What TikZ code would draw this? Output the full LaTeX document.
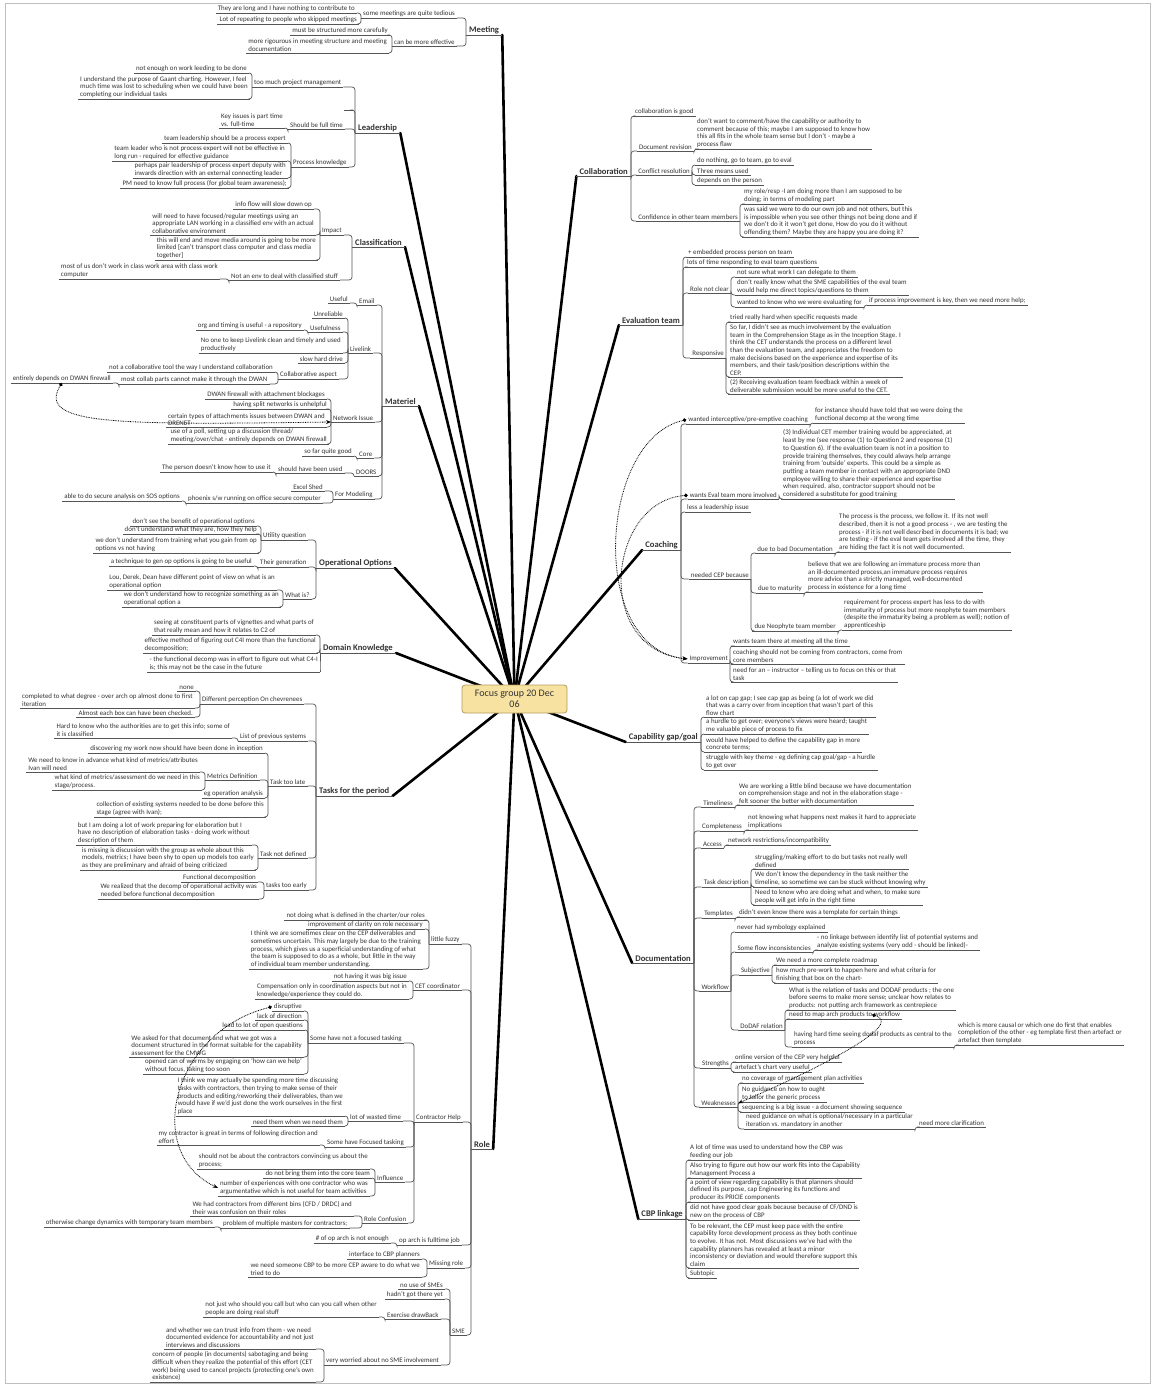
\documentclass[tikz,border=0pt]{standalone}
\usepackage{fontspec}
\setmainfont{Carlito}
\usetikzlibrary{arrows.meta,backgrounds,calc}
\definecolor{ink}{HTML}{333333}
\definecolor{lnk}{HTML}{555555}
\definecolor{boxfill}{HTML}{F8E2A2}
\definecolor{boxline}{HTML}{B39D5E}
\newcommand\leaffont{\fontsize{6.9}{7.7}\selectfont}
\newcommand\topicfont{\fontsize{8.6}{10}\selectfont\bfseries}
\newcommand\hubfont{\fontsize{10}{11.5}\selectfont}
\tikzset{
  ul/.style={draw=lnk, line width=0.7pt},
  txt/.style={inner xsep=2pt, inner ysep=1.1pt, font=\leaffont, text=ink, align=left,
    append after command={(\tikzlastnode.south west) edge[ul] (\tikzlastnode.south east)}},
  lfL/.style={txt, anchor=south east},
  mdL/.style={txt, anchor=south west},
  lfR/.style={txt, anchor=south west},
  mdR/.style={txt, anchor=south east},
  tpL/.style={txt, font=\topicfont, inner xsep=3pt, anchor=south west},
  tpR/.style={txt, font=\topicfont, inner xsep=3pt, anchor=south east},
  hub/.style={draw=boxline, fill=boxfill, rounded corners=3pt, line width=0.8pt,
    font=\hubfont, text=ink, align=center, minimum width=105pt, minimum height=28pt, inner sep=2pt},
  lk/.style={draw=lnk, line width=0.7pt, rounded corners=3pt},
  trunk/.style={draw=black, line width=2.6pt, line cap=round},
  rel/.style={draw=black, line width=0.8pt, dash pattern=on 0.8pt off 0.9pt,
    {Circle[length=3.6pt]}-{Stealth[length=5pt,width=4pt]}},
}
\begin{document}
\begin{tikzpicture}[x=1pt,y=-1pt]
\useasboundingbox (0,0) rectangle (1154,1385);

% central topic
\node[hub] (ctr) at (514.5,699) {Focus group 20 Dec\\06};

% ---------------- Meeting
\node[tpL] (meet) at (466,35) {Meeting};
\node[mdL] (mt1) at (361,18) {some meetings are quite tedious};
\node[lfL] (mt1a) at (357,13) {They are long and I have nothing to contribute to};
\node[lfL] (mt1b) at (359,24) {Lot of repeating to people who skipped meetings};
\node[mdL] (mt2) at (392,46) {can be more effective};
\node[lfL] (mt2a) at (390,35) {must be structured more carefully};
\node[lfL] (mt2b) at (389,53) {more rigourous in meeting structure and meeting\\documentation};

% ---------------- Leadership
\node[tpL] (lead) at (355,133) {Leadership};
\node[mdL] (ld1) at (252,87) {too much project management};
\node[lfL] (ld1a) at (249,73) {not enough on work leeding to be done};
\node[lfL] (ld1b) at (250,99) {I understand the purpose of Gaant charting. However, I feel\\much time was lost to scheduling when we could have been\\completing our individual tasks};
\node[lfL, minimum width=9pt] (ld0) at (353,110) {};
\node[mdL] (ld2) at (288,129) {Should be full time};
\node[lfL] (ld2a) at (285,128) {Key issues is part time\\vs. full-time};
\node[mdL] (ld3) at (291,167) {Process knowledge};
\node[lfL] (ld3a) at (288,143) {team leadership should be a process expert};
\node[lfL] (ld3b) at (287,161) {team leader who is not process expert will not be effective in\\long run - required for effective guidance};
\node[lfL] (ld3c) at (288,178) {perhaps pair leadership of process expert deputy with\\inwards direction with an external connecting leader};
\node[lfL] (ld3d) at (289,188) {PM need to know full process  (for global team awareness);};

% ---------------- Classification
\node[tpL] (clas) at (352,247) {Classification};
\node[mdL] (cl1) at (320,235) {Impact};
\node[lfL] (cl1a) at (314,209) {info flow will slow down op};
\node[lfL] (cl1b) at (316,235) {will need to have focused/regular meetings using an\\appropriate LAN working in a classified env with an actual\\collaborative environment};
\node[lfL] (cl1c) at (318,260) {this will end and move media around is going to be more\\limited [can't transport class computer and class media\\together]};
\node[mdL] (cl2) at (229,280) {Not an env to deal with classified stuff};
\node[lfL] (cl2a) at (220,279) {most of us don't work in class work area with class work\\computer};

% ---------------- Materiel
\node[tpL] (mat) at (382,406) {Materiel};
\node[mdL] (ma1) at (357,305) {Email};
\node[lfL] (ma1a) at (350,303) {Useful};
\node[mdL] (ma2) at (348,353) {Livelink};
\node[lfL] (ma2a) at (345,318) {Unreliable};
\node[mdL] (ma2b) at (308,332) {Usefulness};
\node[lfL] (ma2b1) at (304,330) {org and timing is useful - a repository};
\node[lfL] (ma2c) at (343,353) {No one to keep Livelink clean and timely and used\\productively};
\node[lfL] (ma2d) at (345,363) {slow hard drive};
\node[mdL] (ma2e) at (278,379) {Collaborative aspect};
\node[lfL] (ma2e1) at (275,372) {not a collaborative tool the way I understand collaboration};
\node[mdL] (ma2e2) at (119,384) {most collab parts cannot make it through the DWAN};
\node[lfL] (ma2e2a) at (113,383) {entirely depends on DWAN firewall};
\node[mdL] (ma3) at (331,422) {Network Issue};
\node[lfL] (ma3a) at (327,399) {DWAN firewall with attachment blockages};
\node[lfL] (ma3b) at (329,409) {having split networks is unhelpful};
\node[lfL] (ma3c) at (327,427) {certain types of attachments issues between DWAN and\\DRENET};
\node[lfL] (ma3d) at (329,444) {use of a poll, setting up a discussion thread/\\meeting/over/chat - entirely depends on DWAN firewall};
\node[mdL] (ma4) at (357,458) {Core};
\node[lfL] (ma4a) at (354,456) {so far quite good};
\node[mdL] (ma5) at (354,476) {DOORS};
\node[mdL] (ma5a) at (276,473) {should have been used};
\node[lfL] (ma5a1) at (273,472) {The person doesn't know how to use it};
\node[mdL] (ma6) at (333,499) {For Modeling};
\node[lfL] (ma6a) at (325,491) {Excel Shed};
\node[mdL] (ma6b) at (186,503) {phoenix s/w running on office secure computer};
\node[lfL] (ma6b1) at (182,501) {able to do secure analysis on SOS options};

% ---------------- Operational Options
\node[tpL] (opo) at (316,568) {Operational Options};
\node[mdL] (oo1) at (261,540) {Utility question};
\node[lfL] (oo1a) at (257,526) {don't see the benefit of operational options};
\node[lfL] (oo1b) at (259,534) {don't understand what they are, how they help};
\node[lfL] (oo1c) at (259,553) {we don't understand from training what you gain from op\\options vs not having};
\node[mdL] (oo2) at (258,567) {Their generation};
\node[lfL] (oo2a) at (254,566) {a technique to gen op options is going to be useful};
\node[mdL] (oo3) at (283,599) {What is?};
\node[lfL] (oo3a) at (277,590) {Lou, Derek, Dean have different point of view on what is an\\operational option};
\node[lfL] (oo3b) at (281,607) {we don't understand how to recognize something as an\\operational option a};

% ---------------- Domain Knowledge
\node[tpL] (dom) at (320,653) {Domain Knowledge};
\node[lfL] (dk1) at (316,635) {seeing at constituent parts of vignettes and what parts of\\that really mean and how it relates to C2 of};
\node[lfL] (dk2) at (318,653) {effective method of figuring out C4I more than the functional\\decomposition;};
\node[lfL] (dk3) at (320,672) {- the functional decomp was in effort to figure out what C4-I\\is; this may not be the case in the future};

% ---------------- Tasks for the period
\node[tpL] (task) at (316,796) {Tasks for the period};
\node[mdL] (tk1) at (200,704) {Different perception On chevrenees};
\node[lfL] (tk1a) at (196,691) {none};
\node[lfL] (tk1b) at (195,708) {completed to what degree - over arch op almost done to first\\iteration};
\node[lfL] (tk1c) at (195,717) {Almost each box can have been checked.};
\node[mdL] (tk2) at (238,741) {List of previous systems};
\node[lfL] (tk2a) at (232,738) {Hard to know who the authorities are to get this info; some of\\it is classified};
\node[mdL] (tk3) at (268,786) {Task too late};
\node[lfL] (tk3a) at (265,753) {discovering my work now should have been done in inception};
\node[mdL] (tk3b) at (205,780) {Metrics Definition};
\node[lfL] (tk3b1) at (200,772) {We need to know in advance what kind of metrics/attributes\\Ivan will need};
\node[lfL] (tk3b2) at (202,790) {what kind of metrics/assessment do we need in this\\stage/process.};
\node[lfL] (tk3c) at (265,798) {eg operation analysis};
\node[lfL] (tk3d) at (266,817) {collection of existing systems needed to be done before this\\stage (agree with Ivan);};
\node[mdL] (tk4) at (258,858) {Task not defined};
\node[lfL] (tk4a) at (252,845) {but I am doing a lot of work preparing for elaboration but I\\have no description of elaboration tasks - doing work without\\description of them};
\node[lfL] (tk4b) at (256,870) {is missing is discussion with the group as whole about this\\models, metrics; I have been shy to open up models too early\\as they are preliminary and afraid of being criticized};
\node[mdL] (tk5) at (264,890) {tasks too early};
\node[lfL] (tk5a) at (258,882) {Functional decomposition};
\node[lfL] (tk5b) at (259,899) {We realized that the decomp of operational activity was\\needed before functional decomposition};

% ---------------- Role
\node[tpL] (role) at (471,1149) {Role};
\node[mdL] (ro1) at (429,944) {little fuzzy};
\node[lfL] (ro1a) at (427,920) {not doing what is defined in the charter/our roles};
\node[lfL] (ro1b) at (425,929) {improvement of clarity on role necessary};
\node[lfL] (ro1c) at (423,969) {I think we are sometimes clear on the CEP deliverables and\\sometimes uncertain. This may largely be due to the training\\process, which gives us a superficial understanding of what\\the team is supposed to do as a whole, but little in the way\\of individual team member understanding.};
\node[mdL] (ro2) at (413,990) {CET coordinator};
\node[lfL] (ro2a) at (409,981) {not having it was big issue};
\node[lfL] (ro2b) at (409,999) {Compensation only in coordination aspects but not in\\knowledge/experience they could do.};
\node[mdL] (ro3) at (414,1122) {Contractor Help};
\node[mdL] (ro3a) at (308,1043) {Some have not a focused tasking};
\node[lfL] (ro3a1) at (304,1011) {disruptive};
\node[lfL] (ro3a2) at (304,1020) {lack of direction};
\node[lfL] (ro3a3) at (305,1030) {lead to lot of open questions};
\node[lfL] (ro3a4) at (304,1057) {We asked for that document and what we got was a\\document structured in the format suitable for the capability\\assessment for the CMWG};
\node[lfL] (ro3a5) at (304,1074) {opened can of worms by engaging on `how can we help'\\without focus, taking too soon};
\node[mdL] (ro3b) at (348,1121) {lot of wasted time};
\node[lfL] (ro3b1) at (345,1116) {I think we may actually be spending more time discussing\\tasks with contractors, then trying to make sense of their\\products and editing/reworking their deliverables, than we\\would have if we'd just done the work ourselves in the first\\place};
\node[lfL] (ro3b2) at (345,1126) {need them when we need them};
\node[mdL] (ro3c) at (325,1147) {Some have Focused tasking};
\node[lfL] (ro3c1) at (320,1145) {my contractor is great in terms of following direction and\\effort};
\node[mdL] (ro3d) at (375,1182) {Influence};
\node[lfL] (ro3d1) at (370,1169) {should not be about the contractors convincing us about the\\process;};
\node[lfL] (ro3d2) at (372,1178) {do not bring them into the core team};
\node[lfL] (ro3d3) at (370,1196) {number of experiences with one contractor who was\\argumentative which is not useful for team activities};
\node[mdL] (ro3e) at (362,1223) {Role Confusion};
\node[lfL] (ro3e1) at (354,1216) {We had contractors from different bins (CFD / DRDC) and\\their was confusion on their roles};
\node[mdL] (ro3e2) at (221,1228) {problem of multiple masters for contractors;};
\node[lfL] (ro3e2a) at (215,1227) {otherwise change dynamics with temporary team members};
\node[mdL] (ro4) at (397,1245) {op arch is fulltime job};
\node[lfL] (ro4a) at (391,1243) {\# of op arch is not enough};
\node[mdL] (ro5) at (427,1268) {Missing role};
\node[lfL] (ro5a) at (422,1259) {interface to CBP planners};
\node[lfL] (ro5b) at (422,1277) {we need someone CBP to be more CEP aware to do what we\\tried to do};
\node[mdL] (ro6) at (450,1335) {SME};
\node[lfL] (ro6a) at (445,1289) {no use of SMEs};
\node[lfL] (ro6b) at (445,1299) {hadn't got there yet};
\node[mdL] (ro6c) at (385,1319) {Exercise drawBack};
\node[lfL] (ro6c1) at (379,1317) {not just who should you call but who can you call when other\\people are doing real stuff};
\node[mdL] (ro6d) at (324,1365) {very worried about no SME involvement};
\node[lfL] (ro6d1) at (316,1349) {and whether we can trust info from them - we need\\documented evidence for accountability and not just\\interviews and discussions};
\node[lfL] (ro6d2) at (316,1382) {concern of people (in documents) sabotaging and being\\difficult when they realize the potential of this effort (CET\\work) being used to cancel projects (protecting one's own\\existence)};

% ---------------- Collaboration
\node[tpR] (colb) at (631,176) {Collaboration};
\node[lfR] (co1) at (633,116) {collaboration is good};
\node[mdR] (co2) at (694,151) {Document revision};
\node[lfR] (co2a) at (695,149) {don't want to comment/have the capability or authority to\\comment because of this; maybe I am supposed to know how\\this all fits in the whole team sense but I don't - maybe a\\process flaw};
\node[mdR] (co3) at (692,175) {Conflict resolution};
\node[lfR] (co3a) at (695,165) {do nothing, go to team, go to eval};
\node[lfR] (co3b) at (695,175) {Three means used};
\node[lfR] (co3c) at (695,185) {depends on the person};
\node[mdR] (co4) at (740,221) {Confidence in other team members};
\node[lfR] (co4a) at (742,204) {my role/resp -I am doing more than I am supposed to be\\doing; in terms of modeling part};
\node[lfR] (co4b) at (742,237) {was said we were to do our own job and not others, but this\\is impossible when you see other things not being done and if\\we don't do it it won't get done,  How do you do it without\\offending them? Maybe they are happy you are doing it?};

% ---------------- Evaluation team
\node[tpR] (evt) at (683,325) {Evaluation team};
\node[lfR] (ev1) at (686,257) {+ embedded process person on team};
\node[lfR] (ev2) at (685,267) {lots of time responding to eval team questions};
\node[mdR] (ev3) at (731,293) {Role not clear};
\node[lfR] (ev3a) at (735,277) {not sure what work I can delegate to them};
\node[lfR] (ev3b) at (735,295) {don't really know what the SME capabilities of the eval team\\would help me direct topics/questions to them};
\node[mdR] (ev3c) at (864,307) {wanted to know who we were evaluating for};
\node[lfR] (ev3c1) at (867,305) {if process improvement is key, then we need more help;};
\node[mdR] (ev4) at (726,358) {Responsive};
\node[lfR] (ev4a) at (728,322) {tried really hard when specific requests made};
\node[lfR] (ev4b) at (728,377) {So far, I didn't see as much involvement by the evaluation\\team in the Comprehension Stage as in the Inception Stage. I\\think the CET understands the process on a different level\\than the evaluation team, and appreciates the freedom to\\make decisions based on the experience and expertise of its\\members, and their task/position descriptions within the\\CEP.};
\node[lfR] (ev4c) at (728,394) {(2) Receiving evaluation team feedback within a week of\\deliverable submission would be more useful to the CET.};

% ---------------- Coaching
\node[tpR] (coa) at (681,550) {Coaching};
\node[mdR] (ca1) at (810,424) {wanted interceptive/pre-emptive coaching};
\node[lfR] (ca1a) at (813,423) {for instance should have told that we were doing the\\functional decomp at the wrong time};
\node[mdR] (ca2) at (779,499) {wants Eval team more involved};
\node[lfR] (ca2a) at (781,499) {(3) Individual CET member training would be appreciated, at\\least by me (see response (1) to Question 2 and response (1)\\to Question 6). If the evaluation team is not in a position to\\provide training themselves, they could always help arrange\\training from `outside' experts. This could be a simple as\\putting a team member in contact with an appropriate DND\\employee willing to share their experience and expertise\\when required. also, contractor support should not be\\considered a substitute for good training};
\node[lfR] (ca3) at (685,512) {less a leadership issue};
\node[mdR] (ca4) at (751,579) {needed CEP because};
\node[mdR] (ca4a) at (835,553) {due to bad Documentation};
\node[lfR] (ca4a1) at (837,552) {The process is the process, we follow it. If its not well\\described, then it is not a good process - , we are testing the\\process - if it is not well described in documents it is bad; we\\are testing - if the eval team gets involved all the time, they\\are hiding the fact it is not well documented.};
\node[mdR] (ca4b) at (804,593) {due to maturity};
\node[lfR] (ca4b1) at (806,592) {believe that we are following an immature process more than\\an ill-documented process,an immature process requires\\more advice than a strictly managed, well-documented\\process in existence for a long time};
\node[mdR] (ca4c) at (838,631) {due Neophyte team member};
\node[lfR] (ca4c1) at (842,630) {requirement for process expert has less to do with\\immaturity of process but more neophyte team members\\(despite the immaturity being a problem as well); notion of\\apprenticeship};
\node[mdR] (ca5) at (730,663) {Improvement};
\node[lfR] (ca5a) at (731,646) {wants team there at meeting all the time};
\node[lfR] (ca5b) at (731,664) {coaching should not be coming from contractors, come from\\core members};
\node[lfR] (ca5c) at (731,682) {need for an -- instructor -- telling us to focus on this or that\\task};

% ---------------- Capability gap/goal
\node[tpR] (cap) at (701,742) {Capability gap/goal};
\node[lfR] (cg1) at (704,717) {a lot on cap gap; I see cap gap as being (a lot of work we did\\that was a carry over from inception that wasn't part of this\\flow chart};
\node[lfR] (cg2) at (704,734) {a hurdle to get over; everyone's views were heard; taught\\me valuable piece of process to fix};
\node[lfR] (cg3) at (704,752) {would have helped to define the capability gap in more\\concrete terms;};
\node[lfR] (cg4) at (704,770) {struggle with key theme - eg defining cap goal/gap - a hurdle\\to get over};

% ---------------- Documentation
\node[tpR] (doc) at (694,963) {Documentation};
\node[mdR] (do1) at (735,807) {Timeliness};
\node[lfR] (do1a) at (737,805) {We are working a little blind because we have documentation\\on comprehension stage and not in the elaboration stage -\\felt sooner the better with documentation};
\node[mdR] (do2) at (744,831) {Completeness};
\node[lfR] (do2a) at (746,830) {not knowing what happens next makes it hard to appreciate\\implications};
\node[mdR] (do3) at (724,848) {Access};
\node[lfR] (do3a) at (726,845) {network restrictions/incompatibility};
\node[mdR] (do4) at (751,887) {Task description};
\node[lfR] (do4a) at (753,869) {struggling/making effort to do but tasks not really well\\defined};
\node[lfR] (do4b) at (753,887) {We don't know the dependency in the task neither the\\timeline, so sometime we can be stuck without knowing why};
\node[lfR] (do4c) at (753,905) {Need to know who are doing what and when, to make sure\\people will get info in the right time};
\node[mdR] (do5) at (735,918) {Templates};
\node[lfR] (do5a) at (737,917) {didn't even know there was a template for certain things};
\node[mdR] (do6) at (731,991) {Workflow};
\node[lfR] (do6a) at (735,932) {never had symbology explained};
\node[mdR] (do6b) at (813,952) {Some flow inconsistencies};
\node[lfR] (do6b1) at (815,950) {- no linkage between identify list of potential systems and\\analyze existing systems (very odd - should be linked)-};
\node[mdR] (do6c) at (772,975) {Subjective};
\node[lfR] (do6c1) at (774,965) {We need a more complete roadmap};
\node[lfR] (do6c2) at (774,983) {how much pre-work to happen here and what criteria for\\finishing that box on the chart-};
\node[mdR] (do6d) at (785,1030) {DoDAF relation};
\node[lfR] (do6d1) at (787,1010) {What is the relation of tasks and DODAF products ; the one\\before seems to make more sense; unclear how relates to\\products: not putting arch framework as centrepiece};
\node[lfR] (do6d2) at (787,1019) {need to map arch products to workflow};
\node[mdR] (do6d3) at (954,1047) {having hard time seeing dodaf products as central to the\\process};
\node[lfR] (do6d3a) at (956,1045) {which is more causal or which one do first that enables\\completion of the other - eg template first then artefact or\\artefact then template};
\node[mdR] (do7) at (731,1068) {Strengths};
\node[lfR] (do7a) at (733,1062) {online version of the CEP very helpful};
\node[lfR] (do7b) at (733,1072) {artefact's chart very useful};
\node[mdR] (do8) at (738,1107) {Weaknesses};
\node[lfR] (do8a) at (740,1083) {no coverage of management plan activities};
\node[lfR] (do8b) at (740,1102) {No guidance on how to ought\\to tailor the generic process};
\node[lfR] (do8c) at (740,1112) {sequencing is a big issue - a document showing sequence};
\node[mdR] (do8d) at (915,1129) {need guidance on what is optional/necessary in a particular\\iteration vs. mandatory in another};
\node[lfR] (do8d1) at (917,1127) {need more clarification};

% ---------------- CBP linkage
\node[tpR] (cbp) at (686,1219) {CBP linkage};
\node[lfR] (cb1) at (688,1160) {A lot of time was used to understand how the CBP was\\feeding our job};
\node[lfR] (cb2) at (688,1178) {Also trying to figure out how our work fits into the Capability\\Management Process a};
\node[lfR] (cb3) at (688,1202) {a point of view regarding capability is that planners should\\defined its purpose, cap Engineering its functions and\\producer its PRICIE components};
\node[lfR] (cb4) at (688,1220) {did not have good clear goals because because of CF/DND is\\new on the process of CBP};
\node[lfR] (cb5) at (688,1268) {To be relevant, the CEP must keep pace with the entire\\capability force development process as they both continue\\to evolve. It has not. Most discussions we've had with the\\capability planners has revealed at least a minor\\inconsistency or deviation and would therefore support this\\claim};
\node[lfR] (cb6) at (688,1278) {Subtopic};

% ---------------- connectors (behind the text and the central box)
\begin{pgfonlayer}{background}
  \fill[white] (0,0) rectangle (1154,1385);
  \draw[gray!50, line width=0.8pt] (5,3) rectangle (1150,1383);
  \foreach \t in {meet,lead,clas,mat,opo,dom,task,role}
    \draw[trunk] (ctr.center) -- (\t.south east);
  \foreach \t in {colb,evt,coa,cap,doc,cbp}
    \draw[trunk] (ctr.center) -- (\t.south west);
  % left-hand branches: child's right end to the parent's bracket
  \foreach \c/\p in {mt1a/mt1, mt1b/mt1, mt2a/mt2, mt2b/mt2, mt1/meet, mt2/meet,
    ld1a/ld1, ld1b/ld1, ld2a/ld2, ld3a/ld3, ld3b/ld3, ld3c/ld3, ld3d/ld3, ld1/lead, ld0/lead, ld2/lead, ld3/lead,
    cl1a/cl1, cl1b/cl1, cl1c/cl1, cl2a/cl2, cl1/clas, cl2/clas,
    ma1a/ma1, ma2a/ma2, ma2b1/ma2b, ma2b/ma2, ma2c/ma2, ma2d/ma2, ma2e1/ma2e, ma2e2a/ma2e2, ma2e2/ma2e, ma2e/ma2,
    ma3a/ma3, ma3b/ma3, ma3c/ma3, ma3d/ma3, ma4a/ma4, ma5a1/ma5a, ma5a/ma5, ma6a/ma6, ma6b1/ma6b, ma6b/ma6,
    ma1/mat, ma2/mat, ma3/mat, ma4/mat, ma5/mat, ma6/mat,
    oo1a/oo1, oo1b/oo1, oo1c/oo1, oo2a/oo2, oo3a/oo3, oo3b/oo3, oo1/opo, oo2/opo, oo3/opo,
    dk1/dom, dk2/dom, dk3/dom,
    tk1a/tk1, tk1b/tk1, tk1c/tk1, tk2a/tk2, tk3a/tk3, tk3b1/tk3b, tk3b2/tk3b, tk3b/tk3, tk3c/tk3, tk3d/tk3,
    tk4a/tk4, tk4b/tk4, tk5a/tk5, tk5b/tk5, tk1/task, tk2/task, tk3/task, tk4/task, tk5/task,
    ro1a/ro1, ro1b/ro1, ro1c/ro1, ro2a/ro2, ro2b/ro2,
    ro3a1/ro3a, ro3a2/ro3a, ro3a3/ro3a, ro3a4/ro3a, ro3a5/ro3a, ro3b1/ro3b, ro3b2/ro3b, ro3c1/ro3c,
    ro3d1/ro3d, ro3d2/ro3d, ro3d3/ro3d, ro3e1/ro3e, ro3e2a/ro3e2, ro3e2/ro3e,
    ro3a/ro3, ro3b/ro3, ro3c/ro3, ro3d/ro3, ro3e/ro3, ro4a/ro4, ro5a/ro5, ro5b/ro5,
    ro6a/ro6, ro6b/ro6, ro6c1/ro6c, ro6c/ro6, ro6d1/ro6d, ro6d2/ro6d, ro6d/ro6,
    ro1/role, ro2/role, ro3/role, ro4/role, ro5/role, ro6/role}
    \draw[lk] (\c.south east) -| (\p.south west);
  % right-hand branches: child's left end to the parent's bracket
  \foreach \c/\p in {co1/colb, co2a/co2, co2/colb, co3a/co3, co3b/co3, co3c/co3, co3/colb, co4a/co4, co4b/co4, co4/colb,
    ev1/evt, ev2/evt, ev3a/ev3, ev3b/ev3, ev3c1/ev3c, ev3c/ev3, ev3/evt, ev4a/ev4, ev4b/ev4, ev4c/ev4, ev4/evt,
    ca1a/ca1, ca1/coa, ca2a/ca2, ca2/coa, ca3/coa, ca4a1/ca4a, ca4a/ca4, ca4b1/ca4b, ca4b/ca4, ca4c1/ca4c, ca4c/ca4,
    ca4/coa, ca5a/ca5, ca5b/ca5, ca5c/ca5, ca5/coa,
    cg1/cap, cg2/cap, cg3/cap, cg4/cap,
    do1a/do1, do2a/do2, do3a/do3, do4a/do4, do4b/do4, do4c/do4, do5a/do5, do6a/do6, do6b1/do6b, do6b/do6,
    do6c1/do6c, do6c2/do6c, do6c/do6, do6d1/do6d, do6d2/do6d, do6d3a/do6d3, do6d3/do6d, do6d/do6,
    do7a/do7, do7b/do7, do8a/do8, do8b/do8, do8c/do8, do8d1/do8d, do8d/do8,
    do1/doc, do2/doc, do3/doc, do4/doc, do5/doc, do6/doc, do7/doc, do8/doc,
    cb1/cbp, cb2/cbp, cb3/cbp, cb4/cbp, cb5/cbp, cb6/cbp}
    \draw[lk] (\c.south west) -| (\p.south east);
\end{pgfonlayer}

% relationship links
\draw[rel] (ma2e2a.south) .. controls +(-25,42) and +(-216,3) .. (ma3.south west);
\draw[rel] (ro3a1.west) .. controls +(-100,25) and +(-75,-35) .. (ro3d3.west);
\draw[rel] (ca1.west) .. controls +(-88,20) and +(-100,-10) .. (ca5.west);
\draw[rel] (ca2.west) .. controls +(-80,6) and +(-95,-10) .. (ca5.west);
\draw[rel] ($(do6d2.east)+(-30,0)$) .. controls +(35,10) and +(70,-30) .. (do8.east);
\end{tikzpicture}
\end{document}
